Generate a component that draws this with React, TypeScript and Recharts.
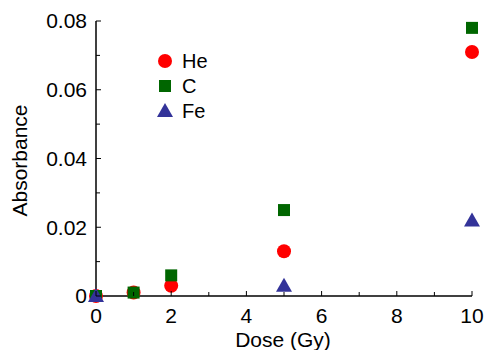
import { ScatterChart, Scatter, XAxis, YAxis, Legend } from "recharts"

// dose (Gy) vs absorbance for each ion
const heDose = [0, 1, 2, 5, 10]
const heAbs = [0, 0.001, 0.003, 0.013, 0.071]
const cDose = [0, 1, 2, 5, 10]
const cAbs = [0, 0.001, 0.006, 0.025, 0.078]
const feDose = [0, 5, 10]
const feAbs = [0, 0.003, 0.022]

const xTicks = [0, 1, 2, 3, 4, 5, 6, 7, 8, 9, 10]
const xTickLabels = ["0", "", "2", "", "4", "", "6", "", "8", "", "10"]
const yTicks = [0, 0.01, 0.02, 0.03, 0.04, 0.05, 0.06, 0.07, 0.08]
const yTickLabels = ["0", "", "0.02", "", "0.04", "", "0.06", "", "0.08"]

const FONT = "'Liberation Sans', Arial, sans-serif"
const RED = "#ff0000"
const GREEN = "#006600"
const BLUE = "#333399"

const toPoints = (xs: number[], ys: number[]) => xs.map((x, i) => ({ x, y: ys[i] }))

const heData = toPoints(heDose, heAbs)
const cData = toPoints(cDose, cAbs)
const feData = toPoints(feDose, feAbs)

const Circle = ({ cx, cy }: any) => <circle cx={cx} cy={cy} r={7} fill={RED} />
const Square = ({ cx, cy }: any) => <rect x={cx - 6} y={cy - 6} width={12} height={12} fill={GREEN} />
const Triangle = ({ cx, cy }: any) => (
  <polygon points={`${cx},${cy - 8} ${cx + 8},${cy + 6} ${cx - 8},${cy + 6}`} fill={BLUE} />
)

const XTick = ({ x, y, index }: any) => {
  const label = xTickLabels[index]
  return (
    <g>
      <line x1={x} x2={x} y1={y} y2={y - (label ? 5 : 4)} stroke="#000" strokeWidth={1} />
      {label && (
        <text x={x} y={y + 27} textAnchor="middle" fontSize={21} fontFamily={FONT} fill="#000">
          {label}
        </text>
      )}
    </g>
  )
}

const YTick = ({ x, y, index }: any) => {
  const label = yTickLabels[index]
  return (
    <g>
      <line x1={x} x2={x + (label ? 5 : 4)} y1={y} y2={y} stroke="#000" strokeWidth={1} />
      {label && (
        <text x={x - 9} y={y} dy="0.35em" textAnchor="end" fontSize={21} fontFamily={FONT} fill="#000">
          {label}
        </text>
      )}
    </g>
  )
}

const legendItems = [
  { name: "He", Shape: Circle },
  { name: "C", Shape: Square },
  { name: "Fe", Shape: Triangle },
]

const LegendBox = () => (
  <svg width={80} height={80}>
    {legendItems.map(({ name, Shape }, i) => (
      <g key={name}>
        <Shape cx={10} cy={13 + i * 25} />
        <text x={27} y={13 + i * 25} dy="0.35em" fontSize={20} fontFamily={FONT} fill="#000">
          {name}
        </text>
      </g>
    ))}
  </svg>
)

export default function App() {
  return (
    <div style={{ position: "absolute", left: 0, top: 0, background: "#fff" }}>
      <ScatterChart width={484} height={350} margin={{ top: 21, right: 12, left: 0, bottom: 0 }}>
        <XAxis
          type="number"
          dataKey="x"
          domain={[0, 10]}
          ticks={xTicks}
          interval={0}
          height={54}
          tickSize={0}
          tickMargin={0}
          tick={<XTick />}
          axisLine={{ stroke: "#000", strokeWidth: 1.5 }}
          label={{
            content: ({ viewBox }: any) => (
              <text
                x={viewBox.x + viewBox.width / 2 - 1}
                y={viewBox.y + 51}
                textAnchor="middle"
                fontSize={21}
                fontFamily={FONT}
                fill="#000"
              >
                Dose (Gy)
              </text>
            ),
          }}
        />
        <YAxis
          type="number"
          dataKey="y"
          domain={[0, 0.08]}
          ticks={yTicks}
          interval={0}
          width={96}
          tickSize={0}
          tickMargin={0}
          tick={<YTick />}
          axisLine={{ stroke: "#000", strokeWidth: 1.5 }}
          label={{
            content: ({ viewBox }: any) => {
              const cx = viewBox.x + 20
              const cy = viewBox.y + viewBox.height / 2 + 2
              return (
                <text
                  x={cx}
                  y={cy}
                  transform={`rotate(-90 ${cx} ${cy})`}
                  textAnchor="middle"
                  dy="0.35em"
                  fontSize={21}
                  fontFamily={FONT}
                  fill="#000"
                >
                  Absorbance
                </text>
              )
            },
          }}
        />
        <Legend
          layout="vertical"
          align="center"
          verticalAlign="middle"
          content={() => <LegendBox />}
          wrapperStyle={{ position: "absolute", left: 155, top: 48, width: 80, height: 80 }}
        />
        <Scatter name="He" data={heData} shape={<Circle />} isAnimationActive={false} />
        <Scatter name="C" data={cData} shape={<Square />} isAnimationActive={false} />
        <Scatter name="Fe" data={feData} shape={<Triangle />} isAnimationActive={false} />
      </ScatterChart>
    </div>
  )
}
